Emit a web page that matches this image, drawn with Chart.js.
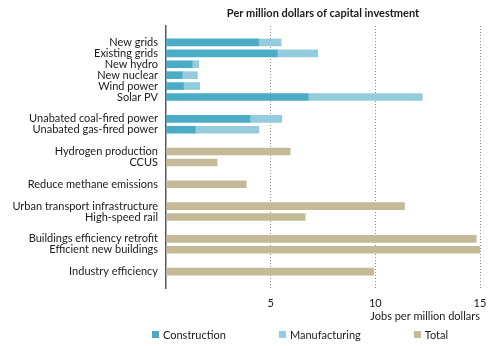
<!DOCTYPE html>
<html>
<head>
<meta charset="utf-8">
<script src="https://cdn.jsdelivr.net/npm/chart.js@4"></script>
<style>
  html, body { margin: 0; padding: 0; background: #fff; }
  #wrap { position: relative; width: 498px; height: 346px; font-family: Lato, "Open Sans", sans-serif; }
  #legend { position: absolute; left: 152px; top: 328px; display: flex; gap: 53px; font-size: 11px; color: #1a1a1a; }
  #legend span.item { display: flex; align-items: center; }
  #legend span.box { display: inline-block; width: 7px; height: 7px; margin-right: 4px; }
</style>
</head>
<body>
<div id="wrap">
  <canvas id="chart" width="498" height="346"></canvas>
  <div id="legend"></div>
</div>
<script>
// blank entries are the spacer rows between groups
const categories = [
  'New grids', 'Existing grids', 'New hydro', 'New nuclear', 'Wind power', 'Solar PV', '',
  'Unabated coal-fired power', 'Unabated gas-fired power', '',
  'Hydrogen production', 'CCUS', '',
  'Reduce methane emissions', '',
  'Urban transport infrastructure', 'High-speed rail', '',
  'Buildings efficiency retrofit', 'Efficient new buildings', '',
  'Industry efficiency'
];
const construction = [4.42, 5.32, 1.25, 0.77, 0.83, 6.79, null, 4.01, 1.39, null,
  null, null, null, null, null, null, null, null, null, null, null, null];
const manufacturing = [1.08, 1.93, 0.32, 0.73, 0.78, 5.45, null, 1.52, 3.05, null,
  null, null, null, null, null, null, null, null, null, null, null, null];
const total = [null, null, null, null, null, null, null, null, null, null,
  5.93, 2.44, null, 3.83, null, 11.39, 6.65, null, 14.82, 15.08, null, 9.92];
const xTicks = [5, 10, 15];

const toPoints = vals => vals
  .map((v, i) => v == null ? null : { x: v, y: i })
  .filter(p => p !== null);

const font = 'Lato';

const chart = new Chart(document.getElementById('chart'), {
  type: 'bar',
  data: {
    datasets: [
      { label: 'Construction', data: toPoints(construction), backgroundColor: '#4bacc6', xAxisID: 'x', yAxisID: 'y' },
      { label: 'Manufacturing', data: toPoints(manufacturing), backgroundColor: '#93cddd', xAxisID: 'x', yAxisID: 'y' },
      { label: 'Total', data: toPoints(total), backgroundColor: '#c4ba97', xAxisID: 'x', yAxisID: 'y' }
    ]
  },
  options: {
    indexAxis: 'y',
    responsive: false,
    animation: false,
    barThickness: 7,
    layout: { padding: { left: 0, right: 18, top: 0, bottom: 18 } },
    plugins: {
      legend: { display: false },
      tooltip: { enabled: false }
    },
    scales: {
      x: {
        type: 'linear',
        stacked: true,
        min: 0,
        max: 15,
        afterBuildTicks: scale => { scale.ticks = [0, ...xTicks].map(v => ({ value: v })); },
        afterFit: scale => { scale.height = 40; },
        ticks: {
          color: '#1a1a1a',
          font: { family: font, size: 11 },
          padding: 9,
          callback: v => v === 0 ? '' : v
        },
        grid: {
          drawTicks: false,
          color: ctx => ctx.tick && ctx.tick.value === 0 ? 'rgba(0,0,0,0)' : '#8c8c8c'
        },
        border: { display: false, dash: [1, 2] },
        title: {
          display: true,
          text: 'Jobs per million dollars',
          align: 'end',
          color: '#1a1a1a',
          font: { family: font, size: 11 },
          padding: { top: 0, bottom: 5 }
        }
      },
      y: {
        type: 'linear',
        stacked: true,
        reverse: true,
        min: -0.96,
        max: categories.length - 1 + 0.96,
        afterBuildTicks: scale => { scale.ticks = categories.map((c, i) => ({ value: i })); },
        afterFit: scale => { scale.width = 166; },
        ticks: {
          autoSkip: false,
          color: '#1a1a1a',
          font: { family: font, size: 11 },
          padding: 8,
          callback: v => categories[v] || ''
        },
        grid: { display: false, drawTicks: false },
        border: { display: true, color: '#595959', width: 1.5 }
      },
      // top axis only carries the heading, centred over the plot
      heading: {
        type: 'linear',
        axis: 'x',
        position: 'top',
        min: 0,
        max: 15,
        afterFit: scale => { scale.height = 26; },
        ticks: { display: false },
        grid: { display: false, drawTicks: false },
        border: { display: false },
        title: {
          display: true,
          text: 'Per million dollars of capital investment',
          align: 'center',
          color: '#1a1a1a',
          font: { family: font, size: 11, weight: 'bold' },
          padding: { top: 7, bottom: 0 }
        }
      }
    }
  }
});

const legendEl = document.getElementById('legend');
chart.data.datasets.forEach(ds => {
  const item = document.createElement('span');
  item.className = 'item';
  const box = document.createElement('span');
  box.className = 'box';
  box.style.background = ds.backgroundColor;
  item.appendChild(box);
  item.appendChild(document.createTextNode(ds.label));
  legendEl.appendChild(item);
});
</script>
</body>
</html>
